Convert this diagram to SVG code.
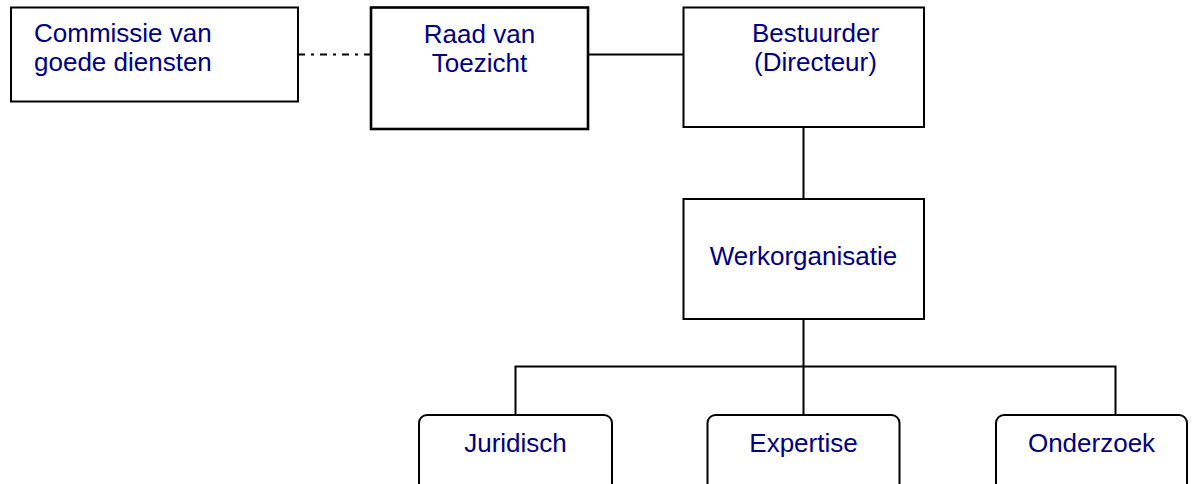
<svg xmlns="http://www.w3.org/2000/svg" width="1194" height="484" viewBox="0 0 1194 484">
<style>
.box{fill:#fff;stroke:#000;stroke-width:2}
.thick{stroke-width:2.6}
.ln{fill:none;stroke:#000;stroke-width:2}
.dd{stroke-dasharray:7 6 3 6}
text{font-family:"Liberation Sans",Arial,sans-serif;font-size:26px;fill:#000080}
.c{text-anchor:middle}
</style>
<rect width="1194" height="484" fill="#fff"/>
<g id="connectors">
<line class="ln dd" x1="298" y1="54.5" x2="371" y2="54.5"/>
<line class="ln" x1="588" y1="54.5" x2="683" y2="54.5"/>
<line class="ln" x1="803.5" y1="127" x2="803.5" y2="199"/>
<line class="ln" x1="803.5" y1="319" x2="803.5" y2="415"/>
<polyline class="ln" points="515.5,415 515.5,366.5 1115.5,366.5 1115.5,415"/>
</g>
<g id="commissie">
<rect class="box" x="11" y="7.5" width="287" height="94"/>
<text x="34" y="42">Commissie van</text>
<text x="34" y="71">goede diensten</text>
</g>
<g id="raad">
<rect class="box thick" x="371" y="7.5" width="217" height="121.5"/>
<text class="c" x="479.5" y="43">Raad van</text>
<text class="c" x="479.5" y="72">Toezicht</text>
</g>
<g id="bestuurder">
<rect class="box" x="683.5" y="7.5" width="240.5" height="119.5"/>
<text class="c" x="815.5" y="42">Bestuurder</text>
<text class="c" x="815.5" y="71">(Directeur)</text>
</g>
<g id="werkorganisatie">
<rect class="box" x="683.5" y="199" width="240.5" height="120"/>
<text class="c" x="803.5" y="265">Werkorganisatie</text>
</g>
<g id="juridisch">
<rect class="box" x="419" y="415" width="193" height="90" rx="8"/>
<text class="c" x="515.5" y="452">Juridisch</text>
</g>
<g id="expertise">
<rect class="box" x="707.5" y="415" width="192" height="90" rx="8"/>
<text class="c" x="803.5" y="452">Expertise</text>
</g>
<g id="onderzoek">
<rect class="box" x="996" y="415" width="191" height="90" rx="8"/>
<text class="c" x="1091.5" y="452">Onderzoek</text>
</g>
</svg>
